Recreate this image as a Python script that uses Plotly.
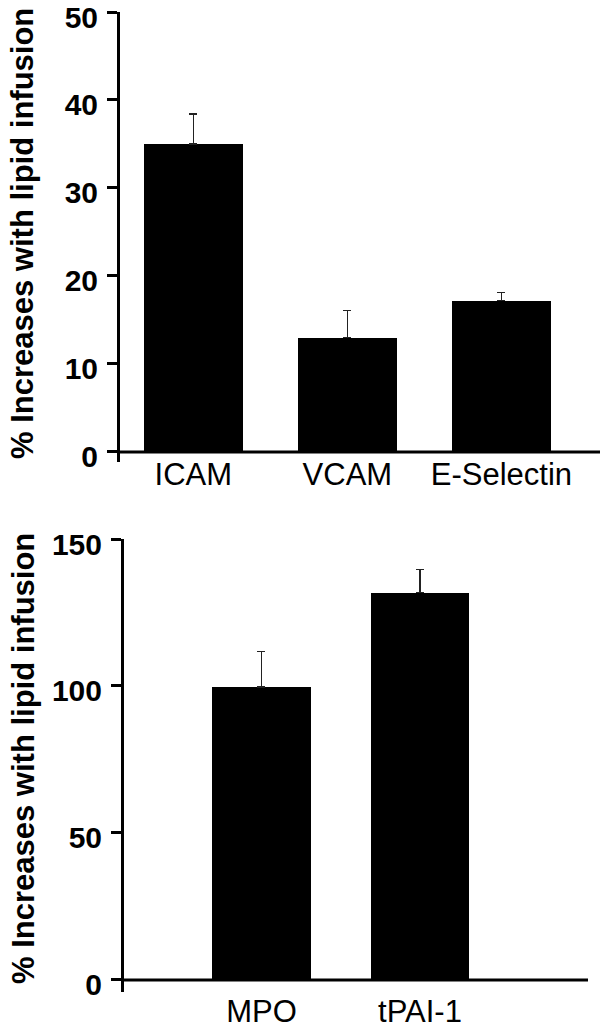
import plotly.graph_objects as go

# Top panel data
top_categories = ["ICAM", "VCAM", "E-Selectin"]
top_values = [35.0, 13.0, 17.2]
top_errors = [3.4, 3.1, 0.9]
top_ticks = [0, 10, 20, 30, 40, 50]

# Bottom panel data
bottom_categories = ["MPO", "tPAI-1"]
bottom_values = [99.7, 131.8]
bottom_errors = [12.1, 7.9]
bottom_ticks = [0, 50, 100, 150]

y_title = "% Increases with lipid infusion"

W, H = 600, 1028
FONT = "Liberation Sans, Arial, Helvetica, sans-serif"

fig = go.Figure()

err_style = dict(type="data", symmetric=False, thickness=1.5, width=4, color="#222222")

fig.add_trace(go.Bar(
    x=top_categories, y=top_values,
    error_y=dict(array=top_errors, arrayminus=[0] * len(top_errors), **err_style),
    marker=dict(color="black", line=dict(width=0)),
    width=0.64, xaxis="x", yaxis="y", showlegend=False,
))
fig.add_trace(go.Bar(
    x=bottom_categories, y=bottom_values,
    error_y=dict(array=bottom_errors, arrayminus=[0] * len(bottom_errors), **err_style),
    marker=dict(color="black", line=dict(width=0)),
    width=0.623, xaxis="x2", yaxis="y2", showlegend=False,
))

def px_x(p):
    return p / W

def px_y(p):
    return (H - p) / H

tick_font = dict(family=FONT, size=30, color="black", weight="bold")
cat_font = dict(family=FONT, size=31, color="black")

yaxis_common = dict(
    showgrid=False, zeroline=False, showline=True, linewidth=3, linecolor="black",
    ticks="outside", ticklen=10, tickwidth=3, tickcolor="black",
    tickfont=tick_font, fixedrange=True, automargin=False,
    ticklabeloverflow="allow", ticklabelstandoff=3, ticklabelshift=5,
)
xaxis_common = dict(
    showgrid=False, zeroline=False, showline=False, ticks="",
    tickfont=cat_font, type="category", fixedrange=True, automargin=False,
    ticklabeloverflow="allow",
)

fig.update_layout(
    width=W, height=H,
    margin=dict(l=0, r=0, t=0, b=0),
    paper_bgcolor="white", plot_bgcolor="white",
    bargap=0,
    hovermode=False,
    xaxis=dict(domain=[px_x(120), 1.0], range=[-0.476, 2.64], anchor="y",
               ticklabelstandoff=-9, **xaxis_common),
    yaxis=dict(domain=[px_y(462), px_y(12)], range=[-1.14, 50], anchor="x",
               tickvals=top_ticks, **yaxis_common),
    xaxis2=dict(domain=[px_x(124), px_x(588)], range=[-0.867, 2.06], anchor="y2",
                ticklabelstandoff=-2, **xaxis_common),
    yaxis2=dict(domain=[px_y(991.7), px_y(539)], range=[-4.0, 150], anchor="x2",
                tickvals=bottom_ticks, **yaxis_common),
)

# x axis baselines at y = 0
fig.add_shape(type="line", xref="x domain", yref="y", x0=0, x1=1, y0=0, y1=0,
              line=dict(color="black", width=3))
fig.add_shape(type="line", xref="x2 domain", yref="y2", x0=0, x1=1, y0=0, y1=0,
              line=dict(color="black", width=3))

title_font = dict(family=FONT, size=31, color="black", weight="bold")
fig.add_annotation(text=y_title, xref="paper", yref="paper", x=px_x(23), y=px_y(234),
                   textangle=-90, showarrow=False, font=title_font,
                   xanchor="center", yanchor="middle")
fig.add_annotation(text=y_title, xref="paper", yref="paper", x=px_x(23), y=px_y(759),
                   textangle=-90, showarrow=False, font=title_font,
                   xanchor="center", yanchor="middle")

# remove the browser's default 8px body margin so the figure fills the window
fig.write_html("out.html", config={"displayModeBar": False},
               post_script="document.body.style.margin='0px';")
